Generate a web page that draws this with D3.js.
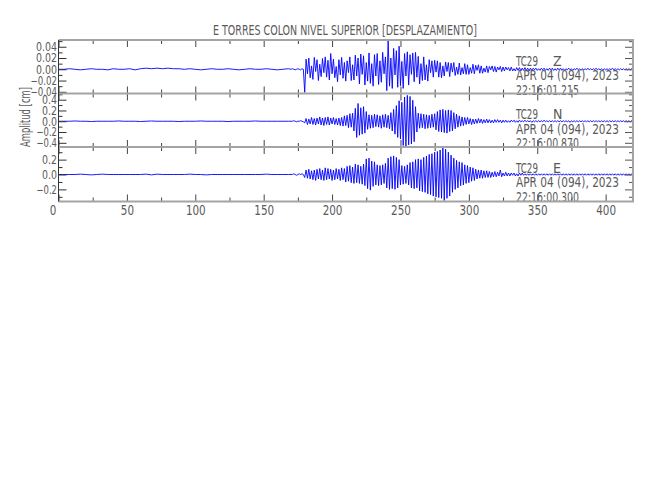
<!DOCTYPE html>
<html><head><meta charset="utf-8">
<script src="https://cdn.jsdelivr.net/npm/d3@7"></script>
<style>
html,body{margin:0;padding:0;background:#fff;}
svg{display:block;}
text{font-family:"Liberation Sans Narrow","DejaVu Sans Condensed","Arial Narrow",sans-serif;fill:#5a5a5a;}
</style></head><body>
<svg id="chart" width="650" height="500"></svg>
<script>
// ---------- data ----------
const title = "E TORRES COLON NIVEL SUPERIOR [DESPLAZAMIENTO]";
const yAxisLabel = "Amplitud [cm]";
const station = "TC29";
const components = ["Z", "N", "E"];
const dateLabel = "APR 04 (094), 2023";
const startTimes = ["22:16:01.215", "22:16:00.870", "22:16:00.300"];

const xTickMajor = [0, 50, 100, 150, 200, 250, 300, 350, 400];
const xTickMinor = [25, 75, 125, 175, 225, 275, 325, 375];
const xTickLabels = ["0", "50", "100", "150", "200", "250", "300", "350", "400"];
const xDomain = [0, 420];

const yDomainZ = [-0.043, 0.052];
const yDomainN = [-0.478, 0.515];
const yDomainE = [-0.363, 0.37];
const yMajorZ = [0.04, 0.02, 0.0, -0.02, -0.04];
const yMinorZ = [0.05, 0.03, 0.01, -0.01, -0.03];
const yLabelsZ = ["0.04", "0.02", "0.00", "\u22120.02", "\u22120.04"];
const yMajorN = [0.4, 0.2, 0.0, -0.2, -0.4];
const yMinorN = [0.5, 0.3, 0.1, -0.1, -0.3];
const yLabelsN = ["0.4", "0.2", "0.0", "\u22120.2", "\u22120.4"];
const yMajorE = [0.2, 0.0, -0.2];
const yMinorE = [0.3, 0.1, -0.1, -0.3];
const yLabelsE = ["0.2", "0.0", "\u22120.2"];

// sampling of the read-off values
const preStep = 4;      // s, samples from t = 0 to 168
const mainStart = 170;  // s, samples every 1 s up to 420
const unitZ = 0.001, unitN = 0.01, unitE = 0.01; // cm per unit

const preZ = [0,0,1,0,-1,0,1,0,0,-1, 1,0,0,1,-1,1,2,1,2,1, 2,1,1,0,1,0,-1,0,1,0, 0,1,0,-1,0,1,0,0,1,0, -1,0,1];
const preN = [0,0,0,0.5,0,0,-0.5,0,0,0, 0,0.5,0,0,0,-0.5,0,0.5,0,0, 0,0,-0.5,0,0,0,0.5,0,0,0, 0,-0.5,0,0,0,0,0.5,0,0,0, 0,0,0];
const preE = [0,0,0,0,0.5,0,-0.5,0,0.5,0, 0,0,0,0,0,0,0.5,-0.5,0.5,0, 0,0,0,0,0.5,0,0,-0.5,0,0, 0,0,0,0,0,0,0,0,0.5,0, 0,0,0];

const mainZ = [
  0,1,0,-1,0,1,0,-1,1,0,
  -41,18,-8,20,-15,6,-18,21,-4,17,
  -20,9,-13,19,-6,22,-14,16,-19,28,
  -8,18,-15,5,-22,17,-10,21,-16,12,
  -21,15,-6,22,-20,8,-19,25,-12,20,
  -26,27,-9,24,-28,12,-21,29,-25,10,
  -30,26,-12,28,-27,15,-23,30,-8,22,
  -38,52,-30,20,-34,37,-10,33,-32,41,
  -29,14,-34,28,-12,31,-28,26,-9,29,
  -22,30,-14,23,-26,10,-20,22,-19,8,
  -21,17,-6,15,-14,16,-5,15,-14,12,
  -15,6,-12,13,-4,12,-13,11,-5,12,
  -11,4,-9,11,-10,3,-8,10,-9,8,
  -9,3,-7,9,-8,7,-2,8,-7,6,
  -7,2,-5,6,-6,5,-1,6,-4,5,
  -5,4,-1,5,-4,4,-3,4,-1,3,
  -3,4,-3,1,-3,3,-2,3,-3,2,
  -2,3,-2,2,-3,2,-2,2,-1,2,
  -2,1,-2,2,-1,2,-2,1,-2,2,
  -1,2,-2,1,-2,2,-1,2,-2,1,
  -2,1,-1,2,-1,1,-2,1,-1,2,
  -1,1,-2,1,-1,1,-1,2,-1,1,
  -1,1,-1,2,-1,1,-1,1,-2,1,
  -1,1,-1,1,-1,2,-1,1,-1,1,
  -1,1,-1,1,-1,1,-1,1,-1,1,
  0];

const mainN = [
  0,0,1,0,-1,0,0,1,0,-1,
  -3,5,-6,4,-5,7,-6,5,-7,6,
  -5,8,-7,6,-8,7,-6,8,-7,6,
  -5,7,-6,5,-7,6,-8,7,-9,10,
  -8,11,-12,14,-11,15,-18,24,-30,33,
  -26,25,-24,27,-22,18,-15,12,-13,11,
  -12,13,-10,12,-11,10,-13,12,-11,13,
  -12,11,-14,16,-18,22,-24,29,-30,38,
  -33,35,-45,45,-47,48,-44,46,-42,39,
  -38,27,-20,15,-13,14,-12,13,-14,12,
  -13,11,-12,13,-11,14,-16,18,-19,21,
  -20,22,-21,20,-22,21,-19,20,-18,16,
  -14,13,-11,10,-9,8,-8,7,-6,7,
  -5,5,-6,4,-5,4,-4,5,-3,4,
  -4,3,-3,4,-3,3,-3,2,-3,3,
  -2,3,-2,2,-3,2,-2,2,-2,1,
  -2,2,-1,2,-2,1,-2,2,-1,1,
  -1,2,-1,1,-1,1,-2,1,-1,1,
  -1,1,-1,1,-1,2,-1,1,-1,1,
  -1,1,-1,1,-1,1,-1,1,-1,1,
  -1,1,-1,1,-2,1,-1,1,-1,1,
  -1,1,-1,1,-1,1,-1,1,-1,1,
  -1,1,-1,1,-1,1,-1,1,-1,1,
  -1,1,-1,1,-1,1,-1,1,-1,1,
  -1,1,-1,1,-1,1,-1,1,-1,1,
  0];

const mainE = [
  0,0,1,0,-1,0,1,0,1,0,
  -4,6,-5,7,-6,5,-7,6,-8,7,
  -6,8,-7,6,-8,9,-7,8,-6,7,
  -8,6,-7,8,-6,7,-8,9,-7,8,
  -10,11,-9,12,-11,10,-12,14,-11,13,
  -12,11,-13,14,-15,21,-19,22,-21,18,
  -16,17,-14,13,-15,12,-14,13,-12,15,
  -18,22,-20,24,-19,25,-20,23,-18,20,
  -14,12,-13,11,-12,13,-14,16,-18,17,
  -19,20,-18,21,-22,20,-23,23,-24,25,
  -26,27,-27,28,-29,30,-30,31,-31,33,
  -32,36,-35,34,-32,30,-29,26,-24,22,
  -20,19,-18,17,-15,16,-14,13,-12,12,
  -11,10,-9,9,-8,7,-6,6,-5,6,
  -5,5,-4,5,-4,4,-4,3,-3,4,
  -3,3,-2,6,-3,2,-2,3,-2,2,
  -2,2,-1,2,-2,1,-2,2,-1,2,
  -1,1,-1,1,-1,1,-1,1,-1,1,
  -1,1,-1,1,-1,1,-1,1,-1,1,
  -1,1,-1,1,-1,1,-1,1,-1,1,
  -1,1,-1,1,-1,1,-1,1,-1,1,
  -1,1,-1,1,-1,1,-1,1,-1,1,
  -1,1,-1,1,-1,1,-1,1,-1,1,
  -1,1,-1,1,-1,1,-1,1,-1,1,
  -1,1,-1,1,-1,1,-1,1,-1,1,
  0];

// ---------- layout ----------
const left = 58.5, right = 633;
const panelEdges = [40, 93.5, 147, 201.5];
const frameColor = "#a4a4a4";
const traceColor = "#0000ff";

function buildSeries(pre, main, unit) {
  const pts = pre.map((v, i) => ({ t: i * preStep, v: v * unit }));
  main.forEach((v, j) => pts.push({ t: mainStart + j, v: v * unit }));
  return pts;
}
// approximate rendered width of a numeric tick label (narrow stroke font)
function labelWidth(s) {
  let w = 0;
  for (const c of s) w += c === "." ? 3 : (c === "\u2212" ? 5.5 : 6);
  return w;
}

const panels = [
  { comp: components[0], time: startTimes[0], domain: yDomainZ, major: yMajorZ, minor: yMinorZ, labels: yLabelsZ, data: buildSeries(preZ, mainZ, unitZ) },
  { comp: components[1], time: startTimes[1], domain: yDomainN, major: yMajorN, minor: yMinorN, labels: yLabelsN, data: buildSeries(preN, mainN, unitN) },
  { comp: components[2], time: startTimes[2], domain: yDomainE, major: yMajorE, minor: yMinorE, labels: yLabelsE, data: buildSeries(preE, mainE, unitE) }
];

const svg = d3.select("#chart");
const x = d3.scaleLinear().domain(xDomain).range([left, right]);

svg.append("text")
  .attr("x", 213).attr("y", 34.5)
  .attr("font-size", 14)
  .attr("textLength", 264).attr("lengthAdjust", "spacingAndGlyphs")
  .text(title);

const defs = svg.append("defs");

panels.forEach((p, i) => {
  const top = panelEdges[i], bot = panelEdges[i + 1];
  const y = d3.scaleLinear().domain(p.domain).range([bot, top]);
  const g = svg.append("g");

  // trace (clipped to the panel)
  defs.append("clipPath").attr("id", "clip" + i)
    .append("rect").attr("x", left).attr("y", top).attr("width", right - left).attr("height", bot - top);
  const line = d3.line().x(d => x(d.t)).y(d => y(d.v));
  g.append("path").datum(p.data)
    .attr("clip-path", "url(#clip" + i + ")")
    .attr("fill", "none").attr("stroke", traceColor).attr("stroke-width", 0.9)
    .attr("stroke-linejoin", "round")
    .attr("d", line);

  // y axes (left with labels, right without)
  const yl = g.append("g").attr("transform", `translate(${left},0)`)
    .call(d3.axisLeft(y).tickValues(p.major).tickSizeInner(-8).tickSizeOuter(0).tickPadding(1.5)
      .tickFormat((d, k) => p.labels[k]));
  yl.select(".domain").remove();
  yl.selectAll("text").attr("font-size", 12).attr("fill", "#5a5a5a").attr("font-family", null)
    .attr("textLength", (d, k) => labelWidth(p.labels[k])).attr("lengthAdjust", "spacingAndGlyphs");
  yl.selectAll("line").attr("stroke", "#333");
  const ylm = g.append("g").attr("transform", `translate(${left},0)`)
    .call(d3.axisLeft(y).tickValues(p.minor).tickSizeInner(-4).tickSizeOuter(0).tickFormat(""));
  ylm.select(".domain").remove();
  ylm.selectAll("line").attr("stroke", "#333");
  [[p.major, 8], [p.minor, 4]].forEach(([vals, len]) => {
    const yr = g.append("g").attr("transform", `translate(${right},0)`)
      .call(d3.axisRight(y).tickValues(vals).tickSizeInner(-len).tickSizeOuter(0).tickFormat(""));
    yr.select(".domain").remove();
    yr.selectAll("line").attr("stroke", "#555");
  });

  // x ticks top & bottom of each panel
  [[xTickMajor, 7], [xTickMinor, 4]].forEach(([vals, len]) => {
    const xt = g.append("g").attr("transform", `translate(0,${top})`)
      .call(d3.axisTop(x).tickValues(vals).tickSizeInner(-len).tickSizeOuter(0).tickFormat(""));
    xt.select(".domain").remove();
    xt.selectAll("line").attr("stroke", "#444");
    const xb = g.append("g").attr("transform", `translate(0,${bot})`)
      .call(d3.axisBottom(x).tickValues(vals).tickSizeInner(-len).tickSizeOuter(0)
        .tickFormat(i === 2 && len === 7 ? (d, k) => xTickLabels[k] : ""));
    xb.select(".domain").remove();
    xb.selectAll("line").attr("stroke", "#444");
    xb.selectAll("text").attr("font-size", 14).attr("fill", "#5a5a5a").attr("font-family", null)
      .attr("dy", "0.71em").attr("y", 4)
      .attr("dx", (d) => d === 0 ? -6 : 0)
      .attr("textLength", (d, k) => xTickLabels[k].length * 6.6).attr("lengthAdjust", "spacingAndGlyphs");
  });

  // annotations
  const ax = 516;
  g.append("text").attr("x", ax).attr("y", top + 25.5).attr("font-size", 14)
    .attr("textLength", 22).attr("lengthAdjust", "spacingAndGlyphs").text(station);
  g.append("text").attr("x", 553).attr("y", top + 25.5).attr("font-size", 14).text(p.comp);
  g.append("text").attr("x", ax).attr("y", top + 40).attr("font-size", 14)
    .attr("textLength", 103).attr("lengthAdjust", "spacingAndGlyphs").text(dateLabel);
  g.append("text").attr("x", ax).attr("y", top + 54.5).attr("font-size", 14)
    .attr("textLength", 63).attr("lengthAdjust", "spacingAndGlyphs").text(p.time);
});

// frames
const fr = svg.append("g");
panelEdges.forEach(yv => {
  fr.append("line").attr("x1", left).attr("x2", right + 1).attr("y1", yv).attr("y2", yv)
    .attr("stroke", frameColor).attr("stroke-width", 2);
});
fr.append("line").attr("x1", right).attr("x2", right).attr("y1", panelEdges[0]).attr("y2", panelEdges[3])
  .attr("stroke", frameColor).attr("stroke-width", 2);
fr.append("line").attr("x1", left).attr("x2", left).attr("y1", panelEdges[0]).attr("y2", panelEdges[3])
  .attr("stroke", "#333").attr("stroke-width", 1);

// y axis title
svg.append("text")
  .attr("transform", "translate(30,117) rotate(-90)")
  .attr("text-anchor", "middle").attr("font-size", 14)
  .attr("textLength", 60).attr("lengthAdjust", "spacingAndGlyphs")
  .text(yAxisLabel);
</script>
</body></html>
